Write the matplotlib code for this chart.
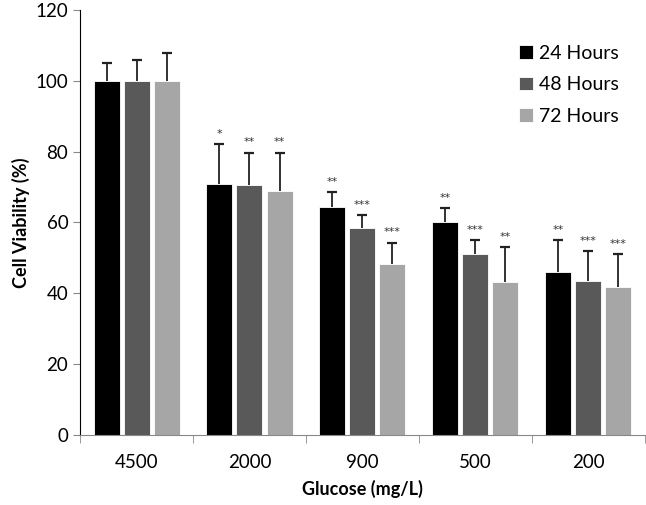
import numpy as np
import matplotlib.pyplot as plt

plt.rcParams['font.family'] = ['Lato', 'DejaVu Sans']

# Data
groups = ['4500', '2000', '900', '500', '200']
series = ['24 Hours', '48 Hours', '72 Hours']
means = {
    '24 Hours': [100, 70.9, 64.3, 60.2, 46.0],
    '48 Hours': [100, 70.6, 58.3, 51.0, 43.5],
    '72 Hours': [100, 69.0, 48.3, 43.2, 41.8],
}
errs = {
    '24 Hours': [5.0, 11.3, 4.2, 3.8, 9.0],
    '48 Hours': [6.0, 9.1, 3.7, 4.0, 8.3],
    '72 Hours': [8.0, 10.7, 6.0, 9.8, 9.2],
}
stars = {
    '24 Hours': ['', '*', '**', '**', '**'],
    '48 Hours': ['', '**', '***', '***', '***'],
    '72 Hours': ['', '**', '***', '**', '***'],
}
colors = ['#000000', '#595959', '#a6a6a6']

fig = plt.figure(figsize=(6.46, 5.05), dpi=100)
ax = fig.add_axes([0.124, 0.139, 0.874, 0.841])

x = np.arange(len(groups))
w = 0.23
gap = 0.036
for i, s in enumerate(series):
    pos = x + (i - 1) * (w + gap)
    m = np.array(means[s])
    top = m + np.array(errs[s])
    ax.bar(pos, m, w, color=colors[i], edgecolor='white', linewidth=0.6,
           label=s, zorder=2)
    # one-sided error bars, cap on top only
    ax.vlines(pos, m, top, color='#222222', linewidth=1.3, zorder=3)
    ax.plot(pos, top, linestyle='none', marker='_', markersize=7,
            markeredgewidth=1.6, color='#222222', zorder=3)
    for p, t_y, t in zip(pos, top, stars[s]):
        if t:
            ax.text(p, t_y + 1.5, t, ha='center', va='bottom', fontsize=8,
                    family='DejaVu Sans', color='#333333')

ax.set_xlim(-0.5, len(groups) - 0.5)
ax.set_ylim(0, 120)
ax.set_yticks(np.arange(0, 121, 20))
ax.set_xticks(x)
ax.set_xticklabels(groups, fontsize=13.5)
ax.set_xticks(np.arange(-0.5, len(groups), 1), minor=True)
ax.tick_params(axis='x', which='major', length=0, pad=14)
ax.tick_params(axis='x', which='minor', length=6, color='#888888')
ax.tick_params(axis='y', labelsize=13.5, length=5, color='#888888')
for sp in ['top', 'right']:
    ax.spines[sp].set_visible(False)
ax.spines['left'].set_color('#000000')
ax.spines['bottom'].set_color('#888888')

ax.set_xlabel('Glucose (mg/L)', fontsize=13, fontweight='bold', labelpad=6)
ax.set_ylabel('Cell Viability (%)', fontsize=13, fontweight='bold', labelpad=4)

ax.legend(loc='upper right', bbox_to_anchor=(0.985, 0.96), frameon=False,
          fontsize=14, handlelength=0.7, handleheight=0.7, labelspacing=0.75,
          handletextpad=0.3)

fig.savefig('out.png', dpi=100)
